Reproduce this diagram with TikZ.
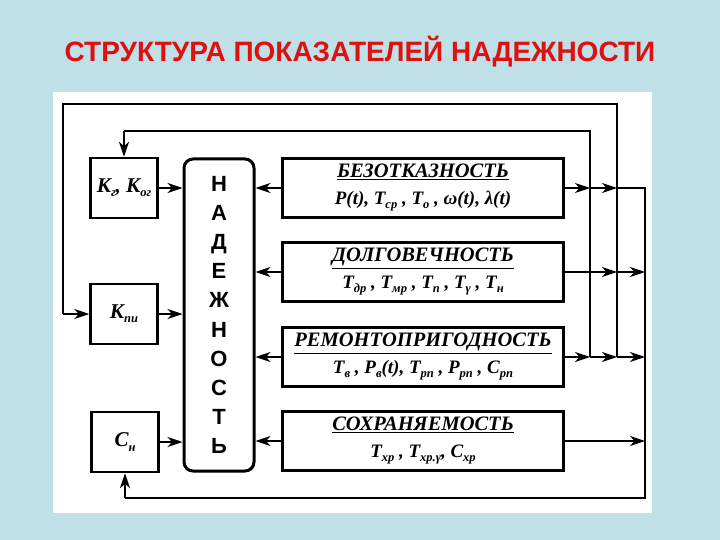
\documentclass[tikz,border=0pt]{standalone}
\usepackage{fontspec}
\setmainfont{Liberation Serif}
\newfontfamily\heads{Liberation Sans}
\usetikzlibrary{arrows.meta}
\definecolor{bgblue}{RGB}{190,224,230}
\definecolor{titlered}{RGB}{222,16,16}
\newcommand\ix[1]{\raisebox{-0.45ex}{\fontsize{12.5}{12.5}\selectfont #1}}
\newcommand\hd[1]{{\fontsize{20.5}{22}\selectfont\underline{#1}}}

\begin{document}
\begin{tikzpicture}
	[x=1pt,y=-1pt,
	every node/.style={inner sep=0pt,font=\bfseries\itshape},
	lbox/.style={draw,line width=2.5pt,minimum width=67pt,minimum height=60pt,font=\bfseries\itshape\fontsize{21}{22}\selectfont},
	rbox/.style={draw,line width=2.5pt,minimum width=281pt,minimum height=59pt,align=center,font=\bfseries\itshape\fontsize{19}{21}\selectfont},
	link/.style={line width=1.2pt},
	arr/.style={link,-{Stealth[length=15pt,width=10pt,inset=4.5pt]}}]
	\fill[bgblue] (0,0) rectangle (720,540);
	\fill[white] (53,92) rectangle (652,513);
	\node[font=\heads\bfseries\fontsize{28}{30}\selectfont,text=titlered] (title) at (360,52) {СТРУКТУРА ПОКАЗАТЕЛЕЙ НАДЕЖНОСТИ};
	\node[draw,line width=3pt,rounded corners=9pt,minimum width=70pt,minimum height=312pt,align=center,
		font=\heads\bfseries\fontsize{22}{29.2}\selectfont] (nad) at (219,315) {Н\\А\\Д\\Е\\Ж\\Н\\О\\С\\Т\\Ь};
	\node[lbox] (kg) at (124,188) {К\ix{г}, К\ix{ог}};
	\node[lbox] (kpi) at (124,314) {К\ix{пи}};
	\node[lbox] (cn) at (125,442) {С\ix{н}};
	\node[rbox] (bez) at (423,188) {\hd{БЕЗОТКАЗНОСТЬ}\\[6pt]Р(t), Т\ix{ср} , Т\ix{о} , ω(t), λ(t)};
	\node[rbox] (dol) at (423,272) {\hd{ДОЛГОВЕЧНОСТЬ}\\[6pt]Т\ix{др} , Т\ix{мр} , Т\ix{п} , Т\ix{γ} , Т\ix{н}};
	\node[rbox] (rem) at (423,357) {\hd{РЕМОНТОПРИГОДНОСТЬ}\\[6pt]Т\ix{в} , Р\ix{в}(t), Т\ix{рп} , Р\ix{рп} , С\ix{рп}};
	\node[rbox] (sohr) at (423,441) {\hd{СОХРАНЯЕМОСТЬ}\\[6pt]Т\ix{хр} , Т\ix{хр.γ}, С\ix{хр}};
	\coordinate (busA) at (590,131);
	\coordinate (busB) at (617,104);
	\coordinate (busC) at (645,498);
	\coordinate (busL) at (63,104);
	\draw[arr] (kg.east) -- (kg.east -| nad.west);
	\draw[arr] (kpi.east) -- (kpi.east -| nad.west);
	\draw[arr] (cn.east) -- (cn.east -| nad.west);
	\draw[arr] (bez.west) -- (bez.west -| nad.east);
	\draw[arr] (dol.west) -- (dol.west -| nad.east);
	\draw[arr] (rem.west) -- (rem.west -| nad.east);
	\draw[arr] (sohr.west) -- (sohr.west -| nad.east);
	\draw[arr] (bez.east) -- (bez.east -| busA);
	\draw[arr] (bez.east -| busA) -- (bez.east -| busB);
	\draw[link] (bez.east -| busB) -- (bez.east -| busC) -- (busC) -- (busC -| cn.south);
	\draw[arr] (busC -| cn.south) -- (cn.south);
	\draw[arr] (dol.east) -- (dol.east -| busB);
	\draw[arr] (dol.east -| busB) -- (dol.east -| busC);
	\draw[arr] (rem.east) -- (rem.east -| busA);
	\draw[arr] (rem.east -| busA) -- (rem.east -| busB);
	\draw[arr] (rem.east -| busB) -- (rem.east -| busC);
	\draw[arr] (sohr.east) -- (sohr.east -| busC);
	\draw[link] (rem.east -| busA) -- (busA) -- (busA -| kg.north);
	\draw[arr] (busA -| kg.north) -- (kg.north);
	\draw[link] (rem.east -| busB) -- (busB) -- (busL) -- (busL |- kpi.west);
	\draw[arr] (busL |- kpi.west) -- (kpi.west);
\end{tikzpicture}
\end{document}
